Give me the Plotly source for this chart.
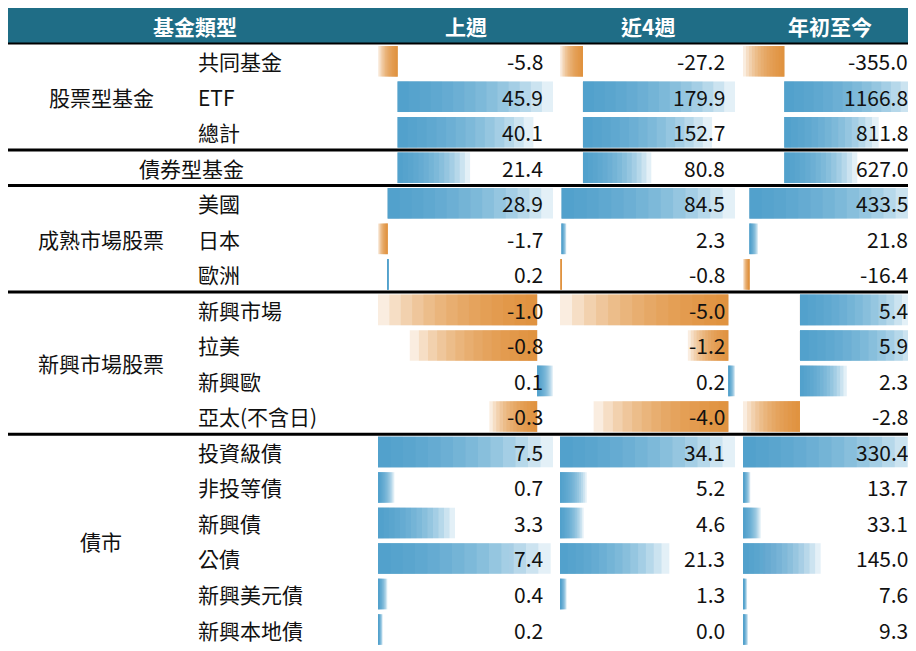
import plotly.graph_objects as go

FONT = "Noto Sans CJK TC"

headers = ["基金類型", "上週", "近4週", "年初至今"]
row_labels = ["共同基金", "ETF", "總計", "債券型基金", "美國", "日本", "歐洲",
              "新興市場", "拉美", "新興歐", "亞太(不含日)",
              "投資級債", "非投等債", "新興債", "公債", "新興美元債", "新興本地債"]
last_week = [-5.8, 45.9, 40.1, 21.4, 28.9, -1.7, 0.2, -1.0, -0.8, 0.1, -0.3,
             7.5, 0.7, 3.3, 7.4, 0.4, 0.2]
four_weeks = [-27.2, 179.9, 152.7, 80.8, 84.5, 2.3, -0.8, -5.0, -1.2, 0.2, -4.0,
              34.1, 5.2, 4.6, 21.3, 1.3, 0.0]
ytd = [-355.0, 1166.8, 811.8, 627.0, 433.5, 21.8, -16.4, 5.4, 5.9, 2.3, -2.8,
       330.4, 13.7, 33.1, 145.0, 7.6, 9.3]
group_labels = ["股票型基金", "成熟市場股票", "新興市場股票", "債市"]
group_rows = [[0, 1, 2, 3], [4, 5, 6], [7, 8, 9, 10], [11, 12, 13, 14, 15, 16]]

columns = [last_week, four_weeks, ytd]
domains = [[370 / 916, 545 / 916], [552 / 916, 727 / 916], [735 / 916, 912 / 916]]
text_x = [537 / 916, 719 / 916, 902 / 916]
head_x = [187 / 916, 458 / 916, 640 / 916, 822 / 916]

fig = go.Figure()
K = 14
for c, vals in enumerate(columns):
    bases, lens = [0] * len(vals), [0] * len(vals)
    for rows in group_rows:
        gv = [vals[i] for i in rows]
        lo, hi = min(0, min(gv)), max(0, max(gv))
        span = hi - lo
        for i in rows:
            bases[i] = -lo / span
            lens[i] = vals[i] / span
    colors = ["#e0892c" if v < 0 else "#3f98c9" for v in vals]
    ax = "x" if c == 0 else "x%d" % (c + 1)
    for k in range(1, K + 1):
        fig.add_trace(go.Bar(
            y=list(range(len(vals))), x=[l * k / K for l in lens], base=bases,
            orientation="h", width=0.86, marker=dict(color=colors, line_width=0),
            opacity=0.14, xaxis=ax, yaxis="y", showlegend=False, hoverinfo="skip"))
    for i, v in enumerate(vals):
        fig.add_annotation(x=text_x[c], y=i, xref="paper", yref="y", text="%.1f" % v,
                           showarrow=False, xanchor="right", font=dict(size=21, color="#111"))

for i, lab in enumerate(row_labels):
    if i == 3:
        fig.add_annotation(x=183 / 916, y=i, xref="paper", yref="y", text=lab,
                           showarrow=False, xanchor="center", font=dict(size=21, color="#111"))
    else:
        fig.add_annotation(x=188 / 916, y=i, xref="paper", yref="y", text=lab,
                           showarrow=False, xanchor="left", font=dict(size=21, color="#111"))

for lab, rows in zip(group_labels, group_rows):
    r = rows if lab != "股票型基金" else rows[:3]
    fig.add_annotation(x=93 / 916, y=(r[0] + r[-1]) / 2, xref="paper", yref="y", text=lab,
                       showarrow=False, xanchor="center", font=dict(size=21, color="#111"))

for h, hx in zip(headers, head_x):
    fig.add_annotation(x=hx, y=-1, xref="paper", yref="y", text="<b>%s</b>" % h,
                       showarrow=False, xanchor="center", font=dict(size=21, color="white"))

fig.add_shape(type="rect", xref="paper", yref="y", x0=0, x1=1, y0=-1.5, y1=-0.5,
              fillcolor="#1f6d86", line_width=0, layer="below")
fig.add_shape(type="line", xref="paper", yref="y", x0=0, x1=1, y0=-0.5, y1=-0.5,
              line=dict(color="black", width=2))
for yy in [2.5, 3.5, 6.5, 10.5]:
    fig.add_shape(type="line", xref="paper", yref="y", x0=0, x1=1, y0=yy, y1=yy,
                  line=dict(color="black", width=3))

hidden = dict(range=[0, 1], visible=False, fixedrange=True)
fig.update_layout(
    width=916, height=651, margin=dict(l=0, r=0, t=0, b=0),
    paper_bgcolor="white", plot_bgcolor="white", barmode="overlay",
    font=dict(family=FONT),
    xaxis=dict(domain=domains[0], **hidden),
    xaxis2=dict(domain=domains[1], **hidden),
    xaxis3=dict(domain=domains[2], **hidden),
    yaxis=dict(range=[16.83, -1.5], visible=False, fixedrange=True),
)

fig.write_html("out.html")
